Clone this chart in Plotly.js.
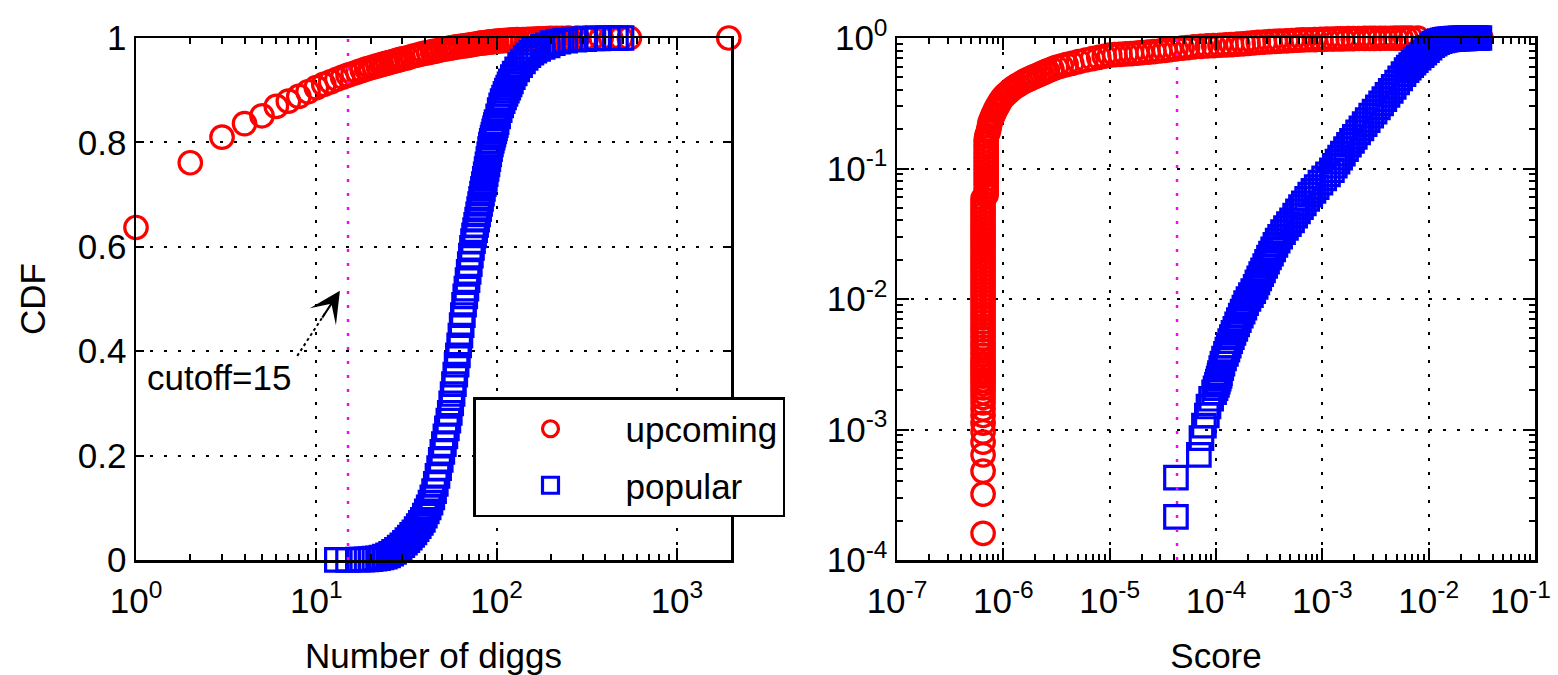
<!DOCTYPE html>
<html>
<head>
<meta charset="utf-8">
<script src="https://cdn.plot.ly/plotly-3.0.1.min.js"></script>
<style>
html,body{margin:0;padding:0;background:#ffffff;}
#chart{width:1558px;height:675px;}
</style>
</head>
<body>
<div id="chart"></div>
<script>
// ---------- data ----------
// Left panel: CDF of number of diggs
const diggsUpcomingX = [1,2,3,4,5,6,7,8,9,10,11,12,13,14,15,16,17,18,19,20,21,22,23,24,25,26,27,28,29,30,
  32,34,36,38,40,42,44,46,48,50,52,54,56,58,60,63,66,69,72,75,78,81,84,87,90,93,96,100,105,110,115,120,125,130,140,150,160,170,180,190,200,215,230,250,280,310,340,380,430,490,545,1940];
const diggsUpcomingCDF = [0.637,0.761,0.810,0.836,0.851,0.869,0.879,0.888,0.897,0.905,0.911,0.916,0.921,0.925,0.929,0.932,0.935,0.938,0.941,0.943,0.945,0.947,0.949,0.951,0.9525,0.954,0.9555,0.957,0.9585,0.960,
  0.962,0.965,0.967,0.969,0.971,0.972,0.974,0.975,0.9765,0.978,0.979,0.980,0.981,0.982,0.983,0.984,0.985,0.986,0.987,0.988,0.989,0.990,0.9905,0.991,0.992,0.9925,0.993,0.994,0.9945,0.995,0.9955,0.996,0.9963,0.9967,0.997,0.9975,0.998,0.9983,0.9986,0.999,0.9992,0.9994,0.9995,0.9997,0.9998,0.9999,0.9999,1,1,1,1,1];

const diggsPopularX = [13,15,17,18,19,20,21,22,23,24,25,26,27,28,29,30,31,32,33,34,35,36,37,38,39,40,41,42,43,44,45,46,47,48,49,50,
  51,52,53,54,55,56,57,58,59,60,61,62,63,64,65,66,67,68,69,70,71,72,73,74,75,76,77,78,79,80,81,82,83,84,85,86,87,88,89,90,91,92,93,94,95,96,97,98,99,100,
  102,104,106,108,110,112,114,116,118,120,123,126,130,135,140,145,150,156,162,170,180,192,205,220,240,270,306,340,366,414,459,493];
const diggsPopularCDF = [0.0002,0.0004,0.0006,0.0009,0.0013,0.0018,0.0025,0.0034,0.0048,0.0066,0.009,0.012,0.0155,0.0195,0.0238,0.0283,0.033,0.038,0.043,0.048,0.053,0.059,0.065,0.071,0.077,0.085,0.093,0.101,0.11,0.12,0.132,0.146,0.161,0.176,0.192,0.207,
  0.222,0.237,0.252,0.267,0.282,0.3,0.318,0.337,0.355,0.374,0.392,0.411,0.43,0.45,0.469,0.489,0.505,0.52,0.536,0.552,0.567,0.583,0.598,0.611,0.622,0.632,0.642,0.652,0.662,0.672,0.682,0.692,0.702,0.711,0.72,0.73,0.739,0.749,0.758,0.768,0.777,0.787,0.796,0.803,0.809,0.815,0.821,0.827,0.833,0.839,
  0.85,0.862,0.871,0.879,0.886,0.893,0.899,0.905,0.911,0.917,0.925,0.932,0.94,0.948,0.955,0.962,0.967,0.972,0.976,0.979,0.983,0.986,0.99,0.993,0.995,0.997,0.998,0.999,0.9993,0.9996,0.9998,1];

// Right panel: CDF of score
const scoreUpcomingX = [
  6.45e-7,6.45e-7,6.45e-7,6.45e-7,6.45e-7,6.45e-7,6.45e-7,6.45e-7,6.45e-7,6.45e-7,6.45e-7,6.45e-7,6.45e-7,6.45e-7,6.45e-7,6.45e-7,6.45e-7,6.45e-7,6.45e-7,6.45e-7,
  6.45e-7,6.45e-7,6.45e-7,6.45e-7,6.45e-7,6.45e-7,6.45e-7,6.45e-7,6.45e-7,6.45e-7,6.45e-7,6.45e-7,6.45e-7,6.45e-7,6.45e-7,6.45e-7,6.45e-7,6.45e-7,6.45e-7,6.45e-7,
  6.45e-7,6.45e-7,6.45e-7,6.45e-7,6.45e-7,6.45e-7,6.45e-7,6.45e-7,6.45e-7,6.45e-7,6.45e-7,6.45e-7,6.45e-7,6.45e-7,6.45e-7,6.45e-7,6.45e-7,6.45e-7,6.45e-7,6.45e-7,6.45e-7,
  6.9e-7,6.9e-7,6.9e-7,6.9e-7,6.9e-7,6.9e-7,6.9e-7,6.9e-7,6.9e-7,6.9e-7,6.9e-7,6.9e-7,6.9e-7,6.9e-7,6.9e-7,
  7.0e-7,7.2e-7,7.3e-7,7.4e-7,7.5e-7,7.7e-7,7.9e-7,8.1e-7,8.4e-7,8.7e-7,9.0e-7,9.4e-7,9.9e-7,1.04e-6,1.1e-6,1.16e-6,1.22e-6,1.29e-6,1.37e-6,1.48e-6,1.6e-6,1.7e-6,1.8e-6,1.9e-6,1.98e-6,2.15e-6,2.3e-6,2.45e-6,2.6e-6,2.86e-6,3.15e-6,3.5e-6,3.9e-6,4.4e-6,5.1e-6,5.97e-6,6.9e-6,7.9e-6,8.9e-6,
  1.0e-5,1.12e-5,1.25e-5,1.42e-5,1.6e-5,1.8e-5,2.0e-5,2.3e-5,2.6e-5,2.95e-5,3.3e-5,3.7e-5,4.2e-5,4.8e-5,5.4e-5,6.2e-5,7.2e-5,8.3e-5,9.5e-5,
  1.09e-4,1.24e-4,1.4e-4,1.6e-4,1.8e-4,2.0e-4,2.25e-4,2.5e-4,2.85e-4,3.2e-4,3.6e-4,4.0e-4,4.6e-4,5.2e-4,5.9e-4,6.6e-4,7.5e-4,8.5e-4,9.7e-4,
  1.1e-3,1.25e-3,1.4e-3,1.55e-3,1.75e-3,1.95e-3,2.2e-3,2.5e-3,2.8e-3,3.1e-3,3.5e-3,3.9e-3,4.4e-3,4.9e-3,5.5e-3,6.1e-3,6.8e-3,7.9e-3,0.0275,0.031];
const scoreUpcomingCDF = [
  0.00016,0.00032,0.00048,0.00064,0.0008,0.00096,0.00112,0.00128,0.00144,0.0016,0.00176,0.00192,0.00208,0.00224,0.0024,0.00256,0.00272,0.00288,0.00304,0.0032,
  0.0034,0.0037,0.004,0.0043,0.0046,0.005,0.0054,0.0058,0.0062,0.0067,0.0072,0.0077,0.0083,0.0089,0.0096,0.0103,0.011,0.0118,0.0127,0.0136,
  0.0146,0.0157,0.0168,0.018,0.0193,0.0207,0.0222,0.0238,0.0255,0.0273,0.0293,0.0314,0.0337,0.0361,0.0387,0.0415,0.0445,0.0477,0.0511,0.0548,0.0588,
  0.063,0.0675,0.0724,0.0776,0.0832,0.0892,0.0956,0.1025,0.11,0.118,0.126,0.135,0.145,0.155,0.166,
  0.178,0.19,0.2,0.212,0.225,0.237,0.25,0.262,0.28,0.295,0.31,0.33,0.35,0.365,0.38,0.395,0.41,0.423,0.436,0.453,0.47,0.48,0.49,0.5,0.508,0.522,0.535,0.548,0.56,0.578,0.595,0.61,0.625,0.64,0.66,0.678,0.695,0.71,0.725,
  0.74,0.745,0.75,0.755,0.76,0.766,0.772,0.779,0.786,0.795,0.805,0.815,0.825,0.835,0.845,0.854,0.862,0.869,0.875,
  0.88,0.885,0.891,0.897,0.903,0.91,0.918,0.925,0.931,0.937,0.942,0.947,0.952,0.957,0.962,0.966,0.97,0.973,0.976,
  0.979,0.982,0.984,0.986,0.988,0.99,0.991,0.992,0.993,0.994,0.995,0.9955,0.996,0.9965,0.997,0.9975,0.998,0.999,1,1];

const scorePopularX = [4.2e-5,4.2e-5,6.9e-5,7.3e-5,7.7e-5,8.2e-5,8.5e-5,9.0e-5,9.6e-5,9.9e-5,1.02e-4,1.04e-4,1.06e-4,1.08e-4,1.09e-4,1.12e-4,1.15e-4,1.19e-4,1.24e-4,1.28e-4,
  1.32e-4,1.36e-4,1.41e-4,1.46e-4,1.52e-4,1.58e-4,1.64e-4,1.71e-4,1.78e-4,1.85e-4,1.92e-4,2.02e-4,2.13e-4,2.24e-4,2.36e-4,2.45e-4,2.55e-4,2.66e-4,2.77e-4,2.9e-4,
  3.02e-4,3.15e-4,3.29e-4,3.45e-4,3.62e-4,3.8e-4,4.01e-4,4.27e-4,4.55e-4,4.85e-4,5.19e-4,5.55e-4,5.9e-4,6.3e-4,6.7e-4,7.2e-4,7.7e-4,8.25e-4,8.85e-4,9.6e-4,
  1.04e-3,1.13e-3,1.23e-3,1.31e-3,1.39e-3,1.47e-3,1.56e-3,1.67e-3,1.78e-3,1.9e-3,2.02e-3,2.17e-3,2.33e-3,2.5e-3,2.67e-3,2.88e-3,3.1e-3,3.33e-3,3.57e-3,3.83e-3,
  4.1e-3,4.4e-3,4.69e-3,5.05e-3,5.4e-3,5.8e-3,6.2e-3,6.5e-3,6.85e-3,7.2e-3,7.57e-3,8.05e-3,8.6e-3,9.1e-3,9.64e-3,0.0102,0.0108,0.0114,0.012,0.0127,
  0.0135,0.0142,0.015,0.016,0.017,0.018,0.019,0.02,0.021,0.022,0.023,0.024,0.025,0.026,0.027,0.0285,0.03];
const scorePopularCDF = [2.14e-4,4.28e-4,6.4e-4,8.6e-4,1.07e-3,1.28e-3,1.5e-3,1.72e-3,1.93e-3,2.07e-3,2.2e-3,2.33e-3,2.45e-3,2.58e-3,2.7e-3,2.95e-3,3.2e-3,3.5e-3,3.8e-3,4.1e-3,
  4.4e-3,4.75e-3,5.1e-3,5.5e-3,5.9e-3,6.4e-3,6.9e-3,7.45e-3,8.0e-3,8.6e-3,9.3e-3,0.01,0.0107,0.0115,0.0124,0.0134,0.0144,0.0155,0.0166,0.0179,
  0.0193,0.0208,0.0223,0.024,0.026,0.028,0.030,0.0325,0.035,0.0375,0.040,0.0435,0.047,0.0505,0.054,0.0585,0.063,0.0675,0.072,0.078,
  0.084,0.09,0.097,0.105,0.113,0.121,0.130,0.141,0.152,0.163,0.175,0.189,0.203,0.219,0.235,0.254,0.273,0.294,0.315,0.34,
  0.366,0.394,0.422,0.456,0.49,0.528,0.567,0.593,0.62,0.648,0.676,0.708,0.74,0.773,0.807,0.845,0.88,0.905,0.93,0.945,
  0.96,0.968,0.975,0.98,0.985,0.988,0.99,0.992,0.994,0.995,0.996,0.997,0.998,0.9985,0.999,0.9995,1];

const diggsCutoff = 15;
const scoreCutoff = 4.3e-5;

const seriesNames = ['upcoming', 'popular'];
const cdfTickVals = [0, 0.2, 0.4, 0.6, 0.8, 1];
const diggsTickVals = [1, 10, 100, 1000];
const diggsTickText = ['10<sup>0</sup>', '10<sup>1</sup>', '10<sup>2</sup>', '10<sup>3</sup>'];
const scoreTickVals = [1e-7, 1e-6, 1e-5, 1e-4, 1e-3, 1e-2, 1e-1];
const scoreTickText = ['10<sup>-7</sup>', '10<sup>-6</sup>', '10<sup>-5</sup>', '10<sup>-4</sup>', '10<sup>-3</sup>', '10<sup>-2</sup>', '10<sup>-1</sup>\u00a0\u00a0\u00a0'];
const scoreCdfTickVals = [1e-4, 1e-3, 1e-2, 1e-1, 1];
const scoreCdfTickText = ['10<sup>-4</sup>', '10<sup>-3</sup>', '10<sup>-2</sup>', '10<sup>-1</sup>', '10<sup>0</sup>'];

// ---------- styling ----------
const FONT = 'Liberation Sans, Arial, Helvetica, sans-serif';
const FS = 35;
const RED = '#FF0000', BLUE = '#0000FF', MAGENTA = '#FF00FF';
const W = 1558, H = 675;

const baseAxis = {
  showline: true, linecolor: 'black', linewidth: 2.5, mirror: 'allticks',
  ticks: 'inside', tickcolor: 'black', tickwidth: 2,
  showgrid: true, gridcolor: 'black', gridwidth: 2, griddash: '3px,11px',
  zeroline: false, automargin: false, fixedrange: true,
  ticklabeloverflow: 'allow',
  tickfont: {family: FONT, size: FS, color: 'black'}
};
const minorLog = {ticks: 'inside', ticklen: 6, tickwidth: 2, tickcolor: 'black', dtick: 'D1', showgrid: false};

const yDom = [1 - 560 / H, 1 - 38 / H];

function markerTrace(x, y, name, sym, color, xa, ya, showleg, grp) {
  return {
    type: 'scatter', mode: 'markers', x: x, y: y, name: name,
    xaxis: xa, yaxis: ya, showlegend: showleg, legendgroup: grp,
    cliponaxis: false, hoverinfo: 'skip',
    marker: {symbol: sym, size: 22.5, color: color, line: {width: 3.2, color: color}}
  };
}

const data = [
  markerTrace(diggsUpcomingX, diggsUpcomingCDF, seriesNames[0], 'circle-open', RED, 'x', 'y', true, 'g1'),
  markerTrace(diggsPopularX, diggsPopularCDF, seriesNames[1], 'square-open', BLUE, 'x', 'y', true, 'g2'),
  markerTrace(scoreUpcomingX, scoreUpcomingCDF, seriesNames[0], 'circle-open', RED, 'x2', 'y2', false, 'g1'),
  markerTrace(scorePopularX, scorePopularCDF, seriesNames[1], 'square-open', BLUE, 'x2', 'y2', false, 'g2'),
  {type: 'scatter', mode: 'lines', x: [diggsCutoff, diggsCutoff], y: [0, 1], xaxis: 'x', yaxis: 'y',
   showlegend: false, hoverinfo: 'skip', line: {color: MAGENTA, width: 2.5, dash: '3px,11px'}},
  {type: 'scatter', mode: 'lines', x: [scoreCutoff, scoreCutoff], y: [1e-4, 1], xaxis: 'x2', yaxis: 'y2',
   showlegend: false, hoverinfo: 'skip', line: {color: MAGENTA, width: 2.5, dash: '3px,11px'}}
];

const layout = {
  width: W, height: H,
  margin: {l: 0, r: 0, t: 0, b: 0},
  paper_bgcolor: 'white', plot_bgcolor: 'white',
  font: {family: FONT, size: FS, color: 'black'},
  showlegend: true,
  legend: {
    x: 473 / W, y: 1 - 397 / H, xanchor: 'left', yanchor: 'top',
    bgcolor: 'white', bordercolor: 'black', borderwidth: 2.5,
    font: {family: FONT, size: FS, color: 'black'},
    itemwidth: 140, traceorder: 'grouped', tracegroupgap: 8
  },
  xaxis: Object.assign({}, baseAxis, {
    type: 'log', domain: [136 / W, 731 / W], range: [0, 3.3], anchor: 'y',
    tickmode: 'array', tickvals: diggsTickVals, ticktext: diggsTickText, ticklen: 12,
    ticklabelstandoff: 8,
    minor: minorLog,
    title: {text: 'Number of diggs', font: {family: FONT, size: FS, color: 'black'}, standoff: 25}
  }),
  yaxis: Object.assign({}, baseAxis, {
    domain: yDom, range: [0, 1], anchor: 'x',
    tickmode: 'array', tickvals: cdfTickVals, ticklen: 8,
    title: {text: 'CDF', font: {family: FONT, size: FS, color: 'black'}, standoff: 22}
  }),
  xaxis2: Object.assign({}, baseAxis, {
    type: 'log', domain: [897 / W, 1535 / W], range: [-7, -1], anchor: 'y2',
    tickmode: 'array', tickvals: scoreTickVals, ticktext: scoreTickText, ticklen: 12,
    ticklabelstandoff: 8,
    minor: minorLog,
    title: {text: 'Score', font: {family: FONT, size: FS, color: 'black'}, standoff: 25}
  }),
  yaxis2: Object.assign({}, baseAxis, {
    type: 'log', domain: yDom, range: [-4, 0], anchor: 'x2',
    tickmode: 'array', tickvals: scoreCdfTickVals, ticktext: scoreCdfTickText, ticklen: 12,
    minor: minorLog
  }),
  shapes: [
    {type: 'line', xref: 'x', yref: 'y', x0: 7.84, y0: 0.391, x1: 11.1, y1: 0.471,
     line: {color: 'black', width: 2, dash: '3px,3px'}}
  ],
  annotations: [
    {xref: 'x', yref: 'y', x: 0.052, y: 0.35, xanchor: 'left', yanchor: 'middle',
     text: 'cutoff=15', showarrow: false, font: {family: FONT, size: FS, color: 'black'}},
    {xref: 'x', yref: 'y', x: 1.131, y: 0.516, text: '', showarrow: true,
     arrowhead: 3, arrowsize: 2.6, arrowwidth: 2, arrowcolor: 'black',
     ax: -18.6, ay: 28.5, standoff: 0}
  ]
};

Plotly.newPlot('chart', data, layout, {displayModeBar: false, staticPlot: true});
</script>
</body>
</html>
